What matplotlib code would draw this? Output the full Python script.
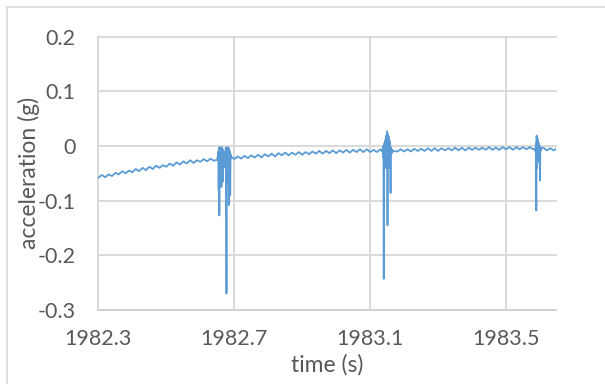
import numpy as np
import matplotlib
matplotlib.use("Agg")
import matplotlib.pyplot as plt
from matplotlib.lines import Line2D

# ---------------- data ----------------
baseline_t = [
    1982.30, 1982.31, 1982.32, 1982.33, 1982.34, 1982.35, 1982.36, 1982.37, 1982.38, 1982.39,
    1982.40, 1982.41, 1982.42, 1982.43, 1982.44, 1982.45, 1982.46, 1982.47, 1982.48, 1982.49,
    1982.50, 1982.51, 1982.52, 1982.53, 1982.54, 1982.55, 1982.56, 1982.57, 1982.58, 1982.59,
    1982.60, 1982.61, 1982.62, 1982.63, 1982.64,
    1982.70, 1982.71, 1982.72, 1982.73, 1982.74, 1982.75, 1982.76, 1982.77, 1982.78, 1982.79,
    1982.80, 1982.81, 1982.82, 1982.83, 1982.84, 1982.85, 1982.86, 1982.87, 1982.88, 1982.89,
    1982.90, 1982.91, 1982.92, 1982.93, 1982.94, 1982.95, 1982.96, 1982.97, 1982.98, 1982.99,
    1983.00, 1983.01, 1983.02, 1983.03, 1983.04, 1983.05, 1983.06, 1983.07, 1983.08, 1983.09,
    1983.10, 1983.11, 1983.12, 1983.13,
    1983.18, 1983.19, 1983.20, 1983.21, 1983.22, 1983.23, 1983.24, 1983.25, 1983.26, 1983.27,
    1983.28, 1983.29, 1983.30, 1983.31, 1983.32, 1983.33, 1983.34, 1983.35, 1983.36, 1983.37,
    1983.38, 1983.39, 1983.40, 1983.41, 1983.42, 1983.43, 1983.44, 1983.45, 1983.46, 1983.47,
    1983.48, 1983.49, 1983.50, 1983.51, 1983.52, 1983.53, 1983.54, 1983.55, 1983.56, 1983.57,
    1983.58,
    1983.61, 1983.62, 1983.63, 1983.64, 1983.647,
]
baseline_g = [
    -0.058, -0.053, -0.057, -0.052, -0.055, -0.049, -0.052, -0.046, -0.050, -0.045,
    -0.048, -0.042, -0.046, -0.040, -0.044, -0.038, -0.042, -0.036, -0.040, -0.035,
    -0.038, -0.032, -0.036, -0.030, -0.034, -0.028, -0.032, -0.026, -0.031, -0.026,
    -0.029, -0.024, -0.028, -0.023, -0.027,
    -0.024, -0.019, -0.023, -0.018, -0.022, -0.017, -0.021, -0.016, -0.021, -0.015,
    -0.019, -0.014, -0.019, -0.013, -0.017, -0.012, -0.017, -0.012, -0.016, -0.011,
    -0.016, -0.011, -0.015, -0.010, -0.014, -0.009, -0.014, -0.009, -0.013, -0.008,
    -0.013, -0.008, -0.012, -0.007, -0.012, -0.007, -0.011, -0.006, -0.011, -0.006,
    -0.011, -0.007, -0.011, -0.006,
    -0.010, -0.006, -0.010, -0.006, -0.010, -0.005, -0.009, -0.005, -0.009, -0.004,
    -0.009, -0.004, -0.009, -0.004, -0.008, -0.004, -0.008, -0.003, -0.008, -0.003,
    -0.008, -0.003, -0.007, -0.003, -0.007, -0.003, -0.007, -0.002, -0.007, -0.003,
    -0.007, -0.002, -0.006, -0.002, -0.007, -0.002, -0.006, -0.002, -0.006, -0.002,
    -0.006,
    -0.003, -0.008, -0.004, -0.008, -0.005,
]

# impact bursts
burst1_t = [1982.650, 1982.653, 1982.654, 1982.655, 1982.656, 1982.657, 1982.658, 1982.659,
            1982.660, 1982.661, 1982.662, 1982.663, 1982.664, 1982.665, 1982.666, 1982.667,
            1982.668, 1982.670, 1982.672, 1982.674, 1982.675, 1982.676, 1982.677, 1982.678,
            1982.679, 1982.680, 1982.681, 1982.682, 1982.683, 1982.684, 1982.685, 1982.686,
            1982.687, 1982.688, 1982.689, 1982.691, 1982.695]
burst1_g = [-0.025, -0.010, -0.080, -0.003, -0.127, -0.002, -0.070, -0.004,
            -0.060, -0.003, -0.075, -0.002, -0.050, -0.005, -0.065, -0.008,
            -0.040, -0.018, -0.010, -0.040, -0.003, -0.080, -0.270, -0.010,
            -0.002, -0.060, -0.004, -0.070, -0.003, -0.108, -0.005, -0.050,
            -0.010, -0.090, -0.015, -0.022, -0.021]

burst2_t = [1983.135, 1983.137, 1983.138, 1983.139, 1983.140, 1983.141, 1983.142, 1983.143,
            1983.144, 1983.145, 1983.146, 1983.147, 1983.148, 1983.149, 1983.150, 1983.151,
            1983.152, 1983.153, 1983.154, 1983.155, 1983.156, 1983.157, 1983.158, 1983.159,
            1983.160, 1983.161, 1983.162, 1983.163, 1983.165, 1983.168]
burst2_g = [-0.010, -0.005, -0.020, 0.000, -0.243, -0.010, 0.005, -0.040,
            0.010, -0.035, 0.015, -0.040, 0.020, -0.030, 0.027, -0.145,
            0.022, -0.035, 0.018, -0.040, 0.012, -0.030, 0.008, -0.020,
            -0.086, -0.002, -0.015, -0.005, -0.012, -0.009]

burst3_t = [1983.585, 1983.587, 1983.588, 1983.589, 1983.590, 1983.591, 1983.592, 1983.593,
            1983.594, 1983.595, 1983.596, 1983.597, 1983.598, 1983.599, 1983.600, 1983.601,
            1983.603, 1983.605]
burst3_g = [-0.005, -0.010, 0.005, -0.118, 0.019, -0.040, 0.015, -0.030,
            0.010, -0.020, 0.005, -0.015, 0.002, -0.010, -0.063, -0.003,
            -0.008, -0.004]

x_ticks = [1982.3, 1982.7, 1983.1, 1983.5]
x_tick_labels = ["1982.3", "1982.7", "1983.1", "1983.5"]
y_ticks = [-0.3, -0.2, -0.1, 0.0, 0.1, 0.2]
y_tick_labels = ["-0.3", "-0.2", "-0.1", "0", "0.1", "0.2"]
x_label = "time (s)"
y_label = "acceleration (g)"
x_min, x_max = 1982.3, 1983.647
y_min, y_max = -0.3, 0.2

# ---------------- figure ----------------
plt.rcParams['font.family'] = ['Lato', 'DejaVu Sans']
W, H = 605, 384
fig = plt.figure(figsize=(W / 100, H / 100), dpi=100)
fig.patch.set_facecolor('white')

L, R, T, B = 98.4, 556.0, 36.7, 310.0
ax = fig.add_axes([L / W, 1 - B / H, (R - L) / W, (B - T) / H])
ax.set_facecolor('none')

t = np.array(baseline_t + burst1_t + burst2_t + burst3_t)
g = np.array(baseline_g + burst1_g + burst2_g + burst3_g)
order = np.argsort(t)
ax.plot(t[order], g[order], color='#5B9BD5', lw=1.3, zorder=3, solid_joinstyle='round')

ax.set_xlim(x_min, x_max)
ax.set_ylim(y_min, y_max)

grid_c = '#d9d9d9'
for yv in y_ticks:
    ax.axhline(yv, color='#cfcfcf' if yv == y_min else grid_c, lw=1.4, zorder=1, clip_on=False)
for xv in x_ticks:
    ax.axvline(xv, color=grid_c, lw=1.4, zorder=1, clip_on=False)

for s in ax.spines.values():
    s.set_visible(False)

ax.set_xticks(x_ticks)
ax.set_xticklabels(x_tick_labels)
ax.set_yticks(y_ticks)
ax.set_yticklabels(y_tick_labels)
ax.tick_params(axis='both', length=0, labelsize=15.5, labelcolor='#595959')
ax.tick_params(axis='y', pad=16.5)
ax.tick_params(axis='x', pad=14)

ax.set_xlabel(x_label, fontsize=16.5, color='#595959', va='center')
ax.xaxis.set_label_coords(0.5, (B - 365) / (B - T))
ax.set_ylabel(y_label, fontsize=16.5, color='#595959', va='center')
ax.yaxis.set_label_coords((29 - L) / (R - L), 0.5)

# outer chart border (only left and top visible in the crop)
bc = '#d9d9d9'
fig.add_artist(Line2D([7 / W, 7 / W], [0, 1 - 7 / H], transform=fig.transFigure, color=bc, lw=1.2))
fig.add_artist(Line2D([7 / W, 1], [1 - 7 / H, 1 - 7 / H], transform=fig.transFigure, color=bc, lw=1.2))

fig.savefig('out.png', dpi=100, facecolor='white')
